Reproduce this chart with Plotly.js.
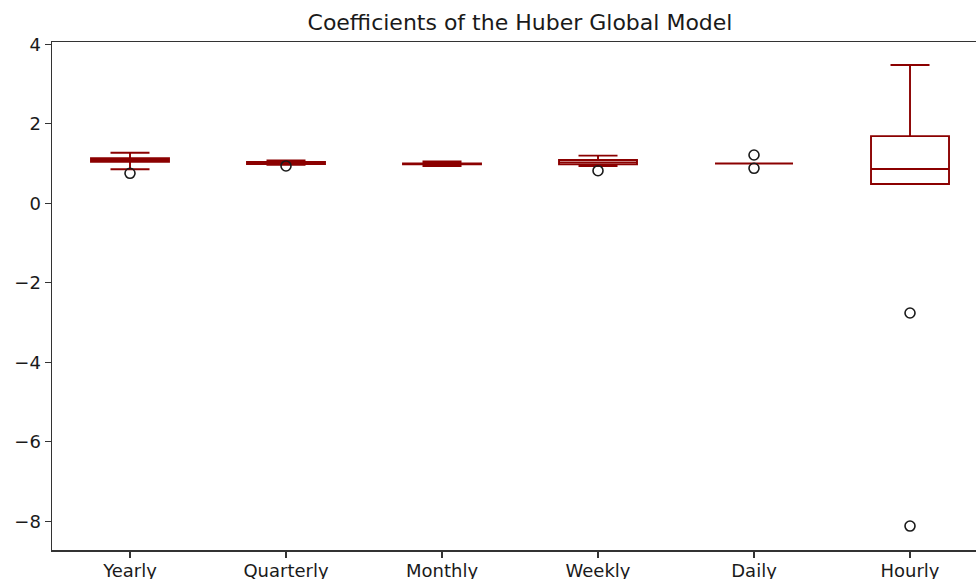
<!DOCTYPE html>
<html>
<head>
<meta charset="utf-8">
<script src="https://cdn.plot.ly/plotly-3.0.1.min.js"></script>
<style>html,body{margin:0;padding:0;background:#fff;}#chart{width:976px;height:579px;}</style>
</head>
<body>
<div id="chart"></div>
<script>
// Box statistics per frequency
const categories = ["Yearly", "Quarterly", "Monthly", "Weekly", "Daily", "Hourly"];
const q1Values        = [1.045, 0.99, 0.98, 0.98, 1.0, 0.486];
const medianValues    = [1.09, 1.01, 0.99, 1.03, 1.0, 0.863];
const q3Values        = [1.135, 1.04, 1.0, 1.09, 1.0, 1.69];
const lowerFenceVals  = [0.855, 0.97, 0.94, 0.94, 1.0, 0.486];
const upperFenceVals  = [1.27, 1.075, 1.05, 1.2, 1.0, 3.48];
// Outliers (fliers)
const outlierCats   = ["Yearly", "Quarterly", "Weekly", "Daily", "Daily", "Hourly", "Hourly"];
const outlierValues = [0.755, 0.94, 0.82, 1.215, 0.88, -2.76, -8.12];

const boxColor = "#8b0000";
const font = "DejaVu Sans, sans-serif";

const traces = [
  {
    type: "box",
    x: categories,
    q1: q1Values,
    median: medianValues,
    q3: q3Values,
    lowerfence: lowerFenceVals,
    upperfence: upperFenceVals,
    boxpoints: false,
    line: {color: boxColor, width: 1.9},
    fillcolor: "rgba(0,0,0,0)",
    whiskerwidth: 0.5,
    showlegend: false,
    hoverinfo: "skip"
  },
  {
    type: "scatter",
    mode: "markers",
    x: outlierCats,
    y: outlierValues,
    marker: {symbol: "circle", size: 10, color: "rgba(0,0,0,0)", line: {color: "#1a1a1a", width: 1.6}},
    showlegend: false,
    hoverinfo: "skip"
  }
];

const layout = {
  width: 976,
  height: 579,
  margin: {l: 52, r: 0, t: 42, b: 29, pad: 0},
  paper_bgcolor: "#ffffff",
  plot_bgcolor: "#ffffff",
  boxgap: 0.5,
  boxgroupgap: 0,
  font: {family: font, size: 18, color: "#1a1a1a"},
  title: {
    text: "Coefficients of the Huber Global Model",
    font: {family: font, size: 22, color: "#1a1a1a"},
    x: 520 / 976,
    xref: "container",
    xanchor: "center",
    y: 1 - 22 / 579,
    yref: "container",
    yanchor: "middle"
  },
  xaxis: {
    type: "category",
    categoryorder: "array",
    categoryarray: categories,
    range: [-0.5, 5.423],
    showgrid: false,
    zeroline: false,
    showline: true,
    mirror: true,
    linecolor: "#333333",
    linewidth: 1.5,
    ticks: "outside",
    ticklen: 6,
    tickwidth: 1.3,
    tickcolor: "#333333",
    ticklabelstandoff: -2,
    tickfont: {family: font, size: 18, color: "#1a1a1a"}
  },
  yaxis: {
    range: [-8.722, 4.058],
    tickvals: [-8, -6, -4, -2, 0, 2, 4],
    ticktext: ["\u22128", "\u22126", "\u22124", "\u22122", "0", "2", "4"],
    showgrid: false,
    zeroline: false,
    showline: true,
    mirror: false,
    linecolor: "#333333",
    linewidth: 1.5,
    ticks: "outside",
    ticklen: 6,
    tickwidth: 1.3,
    tickcolor: "#333333",
    tickfont: {family: font, size: 18, color: "#1a1a1a"}
  }
};

Plotly.newPlot("chart", traces, layout, {displayModeBar: false, staticPlot: true});
</script>
</body>
</html>
